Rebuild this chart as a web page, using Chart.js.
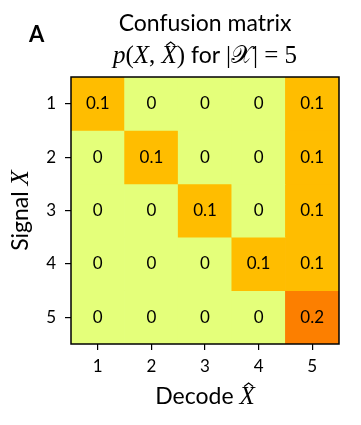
<!DOCTYPE html>
<html>
<head>
<meta charset="utf-8">
<script src="https://cdn.jsdelivr.net/npm/chart.js@4.4.1/dist/chart.umd.min.js"></script>
<style>
  html, body { margin: 0; padding: 0; background: #fff; }
  #wrap { width: 361px; height: 425px; }
</style>
</head>
<body>
<div id="wrap"><canvas id="cm" width="361" height="425"></canvas></div>
<script>
// signal rows (X) and decode columns (X hat)
const rowLabels = ["1", "2", "3", "4", "5"];
const colLabels = ["1", "2", "3", "4", "5"];
const prob = [
  [0.1, 0, 0, 0, 0.1],
  [0, 0.1, 0, 0, 0.1],
  [0, 0, 0.1, 0, 0.1],
  [0, 0, 0, 0.1, 0.1],
  [0, 0, 0, 0, 0.2]
];
const vmin = 0, vmax = 0.2;

// matplotlib "Wistia"
const cmapStops = ["#e4ff7a", "#ffe81a", "#ffbd00", "#ffa000", "#fc7f00"];

const SANS = "Lato, 'DejaVu Sans', sans-serif";
const SERIF = "'Liberation Serif', 'DejaVu Serif', serif";

Chart.defaults.font.family = SANS;
Chart.defaults.font.size = 17;
Chart.defaults.color = "#000";

function hexToRgb(h) {
  return [1, 3, 5].map(i => parseInt(h.slice(i, i + 2), 16));
}

function colorFor(v) {
  let t = (v - vmin) / (vmax - vmin);
  t = Math.max(0, Math.min(1, t));
  const pos = t * (cmapStops.length - 1);
  const i = Math.min(Math.floor(pos), cmapStops.length - 2);
  const f = pos - i;
  const a = hexToRgb(cmapStops[i]), b = hexToRgb(cmapStops[i + 1]);
  const c = a.map((x, k) => Math.round(x + (b[k] - x) * f));
  return `rgb(${c[0]},${c[1]},${c[2]})`;
}

function fmtCell(v) {
  return v === 0 ? "0" : String(Math.round(v * 10) / 10);
}

// one floating-bar dataset per signal row
const datasets = rowLabels.map((r, i) => {
  const y = Number(r);
  return {
    label: "X=" + r,
    data: colLabels.map(() => [y - 0.5, y + 0.5]),
    backgroundColor: prob[i].map(colorFor),
    borderWidth: 0,
    borderSkipped: false,
    barPercentage: 1.0,
    categoryPercentage: 1.0,
    grouped: false
  };
});

// draw runs of mixed fonts, centred on cx
function drawRuns(ctx, runs, cx, y) {
  let total = 0;
  runs.forEach(r => { ctx.font = r.font; r.w = ctx.measureText(r.text).width; total += r.w; });
  let x = cx - total / 2;
  ctx.textAlign = "left";
  ctx.textBaseline = "alphabetic";
  runs.forEach(r => {
    ctx.font = r.font;
    ctx.fillText(r.text, x, y);
    if (r.hat) {
      // little circumflex over the letter
      const mx = x + r.w * 0.6, top = y - r.hat;
      ctx.beginPath();
      ctx.moveTo(mx - 4.5, top + 3.5);
      ctx.lineTo(mx, top);
      ctx.lineTo(mx + 4.5, top + 3.5);
      ctx.lineWidth = 1.1;
      ctx.stroke();
    }
    x += r.w;
  });
}

const cellText = {
  id: "cellText",
  afterDatasetsDraw(chart) {
    const ctx = chart.ctx;
    ctx.save();
    ctx.fillStyle = "#000";
    ctx.font = "17px " + SANS;
    ctx.textAlign = "center";
    ctx.textBaseline = "middle";
    chart.data.datasets.forEach((ds, i) => {
      const meta = chart.getDatasetMeta(i);
      meta.data.forEach((bar, j) => {
        ctx.fillText(fmtCell(prob[i][j]), bar.x, (bar.y + bar.base) / 2);
      });
    });
    const a = chart.chartArea;
    ctx.strokeStyle = "#000";
    ctx.lineWidth = 1.5;
    ctx.strokeRect(a.left, a.top, a.right - a.left, a.bottom - a.top);
    ctx.restore();
  },
  afterDraw(chart) {
    const ctx = chart.ctx;
    const a = chart.chartArea;
    const cx = (a.left + a.right) / 2;
    ctx.save();
    ctx.fillStyle = "#000";
    ctx.strokeStyle = "#000";

    ctx.font = "bold 22px " + SANS;
    ctx.textAlign = "left";
    ctx.fillText("A", 29, 42);

    ctx.font = "23px " + SANS;
    ctx.textAlign = "center";
    ctx.fillText("Confusion matrix", cx, 31);

    const it = "italic 25px " + SERIF, up = "25px " + SERIF;
    drawRuns(ctx, [
      { text: "p", font: it }, { text: "(", font: up }, { text: "X", font: it },
      { text: ", ", font: up }, { text: "X", font: it, hat: 21 }, { text: ")", font: up },
      { text: " for ", font: "23px " + SANS },
      { text: "|", font: up }, { text: "\u{1D4B3}", font: up }, { text: "| = 5", font: up }
    ], cx, 63);

    drawRuns(ctx, [
      { text: "Decode ", font: "23px " + SANS }, { text: "X", font: it, hat: 21 }
    ], cx, 404);

    ctx.translate(28, (a.top + a.bottom) / 2);
    ctx.rotate(-Math.PI / 2);
    drawRuns(ctx, [
      { text: "Signal ", font: "23px " + SANS }, { text: "X", font: it }
    ], 0, 0);
    ctx.restore();
  }
};

new Chart(document.getElementById("cm"), {
  type: "bar",
  data: { labels: colLabels, datasets },
  options: {
    responsive: false,
    animation: false,
    layout: { padding: { left: 0, top: 77, right: 22, bottom: 0 } },
    plugins: { legend: { display: false }, tooltip: { enabled: false }, title: { display: false } },
    scales: {
      x: {
        type: "category",
        offset: true,
        grid: { display: true, offset: false, drawOnChartArea: false, drawTicks: true, tickLength: 6, color: "#000", lineWidth: 1.2 },
        border: { display: false },
        ticks: { color: "#000", font: { family: SANS, size: 17 }, padding: 6, maxRotation: 0, autoSkip: false },
        afterFit(scale) { scale.height = 81; }
      },
      y: {
        type: "linear",
        min: 0.5,
        max: 5.5,
        reverse: true,
        afterBuildTicks(scale) { scale.ticks = rowLabels.map(v => ({ value: Number(v) })); },
        grid: { display: true, drawOnChartArea: false, drawTicks: true, tickLength: 6, color: "#000", lineWidth: 1.2 },
        border: { display: false },
        ticks: { color: "#000", font: { family: SANS, size: 17 }, padding: 9, autoSkip: false, callback: v => String(v) },
        afterFit(scale) { scale.width = 71; }
      }
    }
  },
  plugins: [cellText]
});
</script>
</body>
</html>
